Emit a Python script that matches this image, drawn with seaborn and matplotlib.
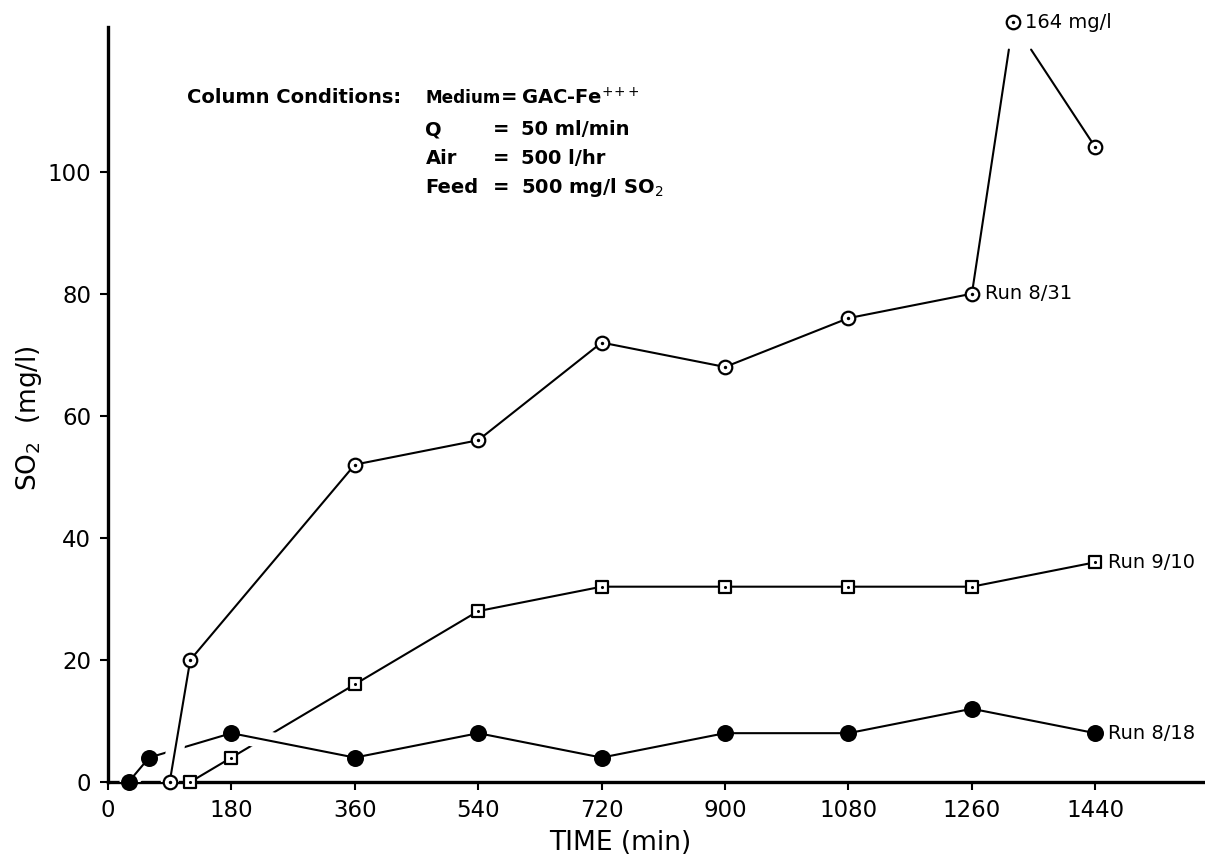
import numpy as np
import pandas as pd
import matplotlib
matplotlib.use("Agg")
import matplotlib.pyplot as plt
import matplotlib.patheffects as pe
import seaborn as sns

# --- data -------------------------------------------------------------
time_831 = [90, 120, 360, 540, 720, 900, 1080, 1260, 1320, 1440]
so2_831 = [0, 20, 52, 56, 72, 68, 76, 80, 164, 104]

time_910 = [120, 180, 360, 540, 720, 900, 1080, 1260, 1440]
so2_910 = [0, 4, 16, 28, 32, 32, 32, 32, 36]

time_818 = [30, 60, 180, 360, 540, 720, 900, 1080, 1260, 1440]
so2_818 = [0, 4, 8, 4, 8, 4, 8, 8, 12, 8]

run_labels = ["Run 8/31", "Run 9/10", "Run 8/18"]
x_ticks = [0, 180, 360, 540, 720, 900, 1080, 1260, 1440]
y_ticks = [0, 20, 40, 60, 80, 100]

XMAX, YMAX = 1600, 123.7
BREAK_Y = 120.0          # lines to an off-scale point stop here
OFFSCALE_Y = 124.5       # where an off-scale point is drawn

# --- style ------------------------------------------------------------
sns.set_style("ticks", rc={"text.color": "black", "axes.labelcolor": "black",
                           "xtick.color": "black", "ytick.color": "black",
                           "axes.edgecolor": "black"})
plt.rcParams["font.family"] = ["DejaVu Sans"]
plt.rcParams["mathtext.fontset"] = "dejavusans"

fig = plt.figure(figsize=(12.05, 8.65), dpi=100)
ax = fig.add_axes([108 / 1205, 83 / 865, 1097 / 1205, 755 / 865])

LW = 1.5
halo = [pe.Stroke(linewidth=13, foreground="white"), pe.Normal()]

# Run 9/10 (open squares)
df910 = pd.DataFrame({"t": time_910, "v": so2_910})
sns.lineplot(data=df910, x="t", y="v", ax=ax, color="black", lw=LW,
             sort=False, zorder=2)

# Run 8/18 (filled circles), drawn over Run 9/10 with a white gap
df818 = pd.DataFrame({"t": time_818, "v": so2_818})
sns.lineplot(data=df818, x="t", y="v", ax=ax, color="black", lw=LW,
             sort=False, zorder=3, path_effects=halo)

# Run 8/31 (open circles with dot); one point runs off the scale
t831 = np.array(time_831, dtype=float)
v831 = np.array(so2_831, dtype=float)
on = v831 <= YMAX
off_idx = np.where(~on)[0]
df831_main = pd.DataFrame({"t": t831[:off_idx[0]], "v": v831[:off_idx[0]]})
sns.lineplot(data=df831_main, x="t", y="v", ax=ax, color="black", lw=LW,
             sort=False, zorder=4, path_effects=halo)
for i in off_idx:
    for j in (i - 1, i + 1):
        if 0 <= j < len(t831):
            f = (BREAK_Y - v831[j]) / (OFFSCALE_Y - v831[j])
            seg = pd.DataFrame({"t": [t831[j], t831[j] + f * (t831[i] - t831[j])],
                                "v": [v831[j], BREAK_Y]})
            sns.lineplot(data=seg, x="t", y="v", ax=ax, color="black",
                         lw=LW, sort=False, zorder=4)

# markers
v831_plot = np.where(on, v831, OFFSCALE_Y)
sq = pd.DataFrame({"t": time_910, "v": so2_910})
sns.scatterplot(data=sq, x="t", y="v", ax=ax, marker="s", s=85,
                facecolor="white", edgecolor="black", linewidth=1.6,
                zorder=5, clip_on=False)
sns.scatterplot(data=sq, x="t", y="v", ax=ax, marker="o", s=5,
                color="black", linewidth=0, zorder=6, clip_on=False)

fc = pd.DataFrame({"t": time_818, "v": so2_818})
sns.scatterplot(data=fc, x="t", y="v", ax=ax, marker="o", s=150,
                color="black", edgecolor="black", linewidth=0,
                zorder=5, clip_on=False)

oc = pd.DataFrame({"t": t831, "v": v831_plot})
sns.scatterplot(data=oc, x="t", y="v", ax=ax, marker="o", s=95,
                facecolor="white", edgecolor="black", linewidth=1.6,
                zorder=5, clip_on=False)
sns.scatterplot(data=oc, x="t", y="v", ax=ax, marker="o", s=6,
                color="black", linewidth=0, zorder=6, clip_on=False)

# --- labels on the series ----------------------------------------------
lab_fs = 14
ax.text(t831[7] + 19, v831[7], run_labels[0], fontsize=lab_fs,
        va="center", ha="left")
ax.text(time_910[-1] + 18, so2_910[-1], run_labels[1], fontsize=lab_fs,
        va="center", ha="left")
ax.text(time_818[-1] + 18, so2_818[-1], run_labels[2], fontsize=lab_fs,
        va="center", ha="left", clip_on=False)
for i in off_idx:
    ax.text(t831[i] + 18, OFFSCALE_Y, f"{int(v831[i])} mg/l",
            fontsize=lab_fs, va="center", ha="left", clip_on=False)

# --- column conditions block -------------------------------------------
cond_fs = 14
ax.text(115, 112.1, "Column Conditions:", fontsize=cond_fs, va="center",
        ha="left", fontweight="bold")
rows = [("Medium", "GAC-Fe$^{+\\!+\\!+}$", 112.1),
        ("Q", "50 ml/min", 106.9),
        ("Air", "500 l/hr", 102.2),
        ("Feed", "500 mg/l SO$_2$", 97.4)]
for name, val, yy in rows:
    if name == "Medium":
        ax.text(463, yy, name, fontsize=12.2, va="center", ha="left",
                fontweight="bold")
        eq_x = 573
    else:
        ax.text(463, yy, name, fontsize=cond_fs, va="center", ha="left",
                fontweight="bold")
        eq_x = 562
    ax.text(eq_x, yy, "=", fontsize=cond_fs, va="center", ha="left",
            fontweight="bold")
    ax.text(603, yy, val, fontsize=cond_fs, va="center", ha="left",
            fontweight="bold")

# --- axes -----------------------------------------------------------------
ax.set_xlim(0, XMAX)
ax.set_ylim(0, YMAX)
ax.set_xticks(x_ticks)
ax.set_yticks(y_ticks)
ax.tick_params(axis="both", direction="out", length=6, width=1.5,
               labelsize=16.5, pad=6)
for side in ("top", "right"):
    ax.spines[side].set_visible(False)
for side in ("left", "bottom"):
    ax.spines[side].set_linewidth(2.4)

ax.set_xlabel("TIME (min)", fontsize=19)
ax.set_ylabel("SO$_2$  (mg/l)", fontsize=19)
ax.xaxis.set_label_coords((620 - 108) / 1097, -0.064)
ax.yaxis.set_label_coords((44 - 108) / 1097, (782 - 418) / 755)

fig.savefig("out.png", dpi=100, facecolor="white")
